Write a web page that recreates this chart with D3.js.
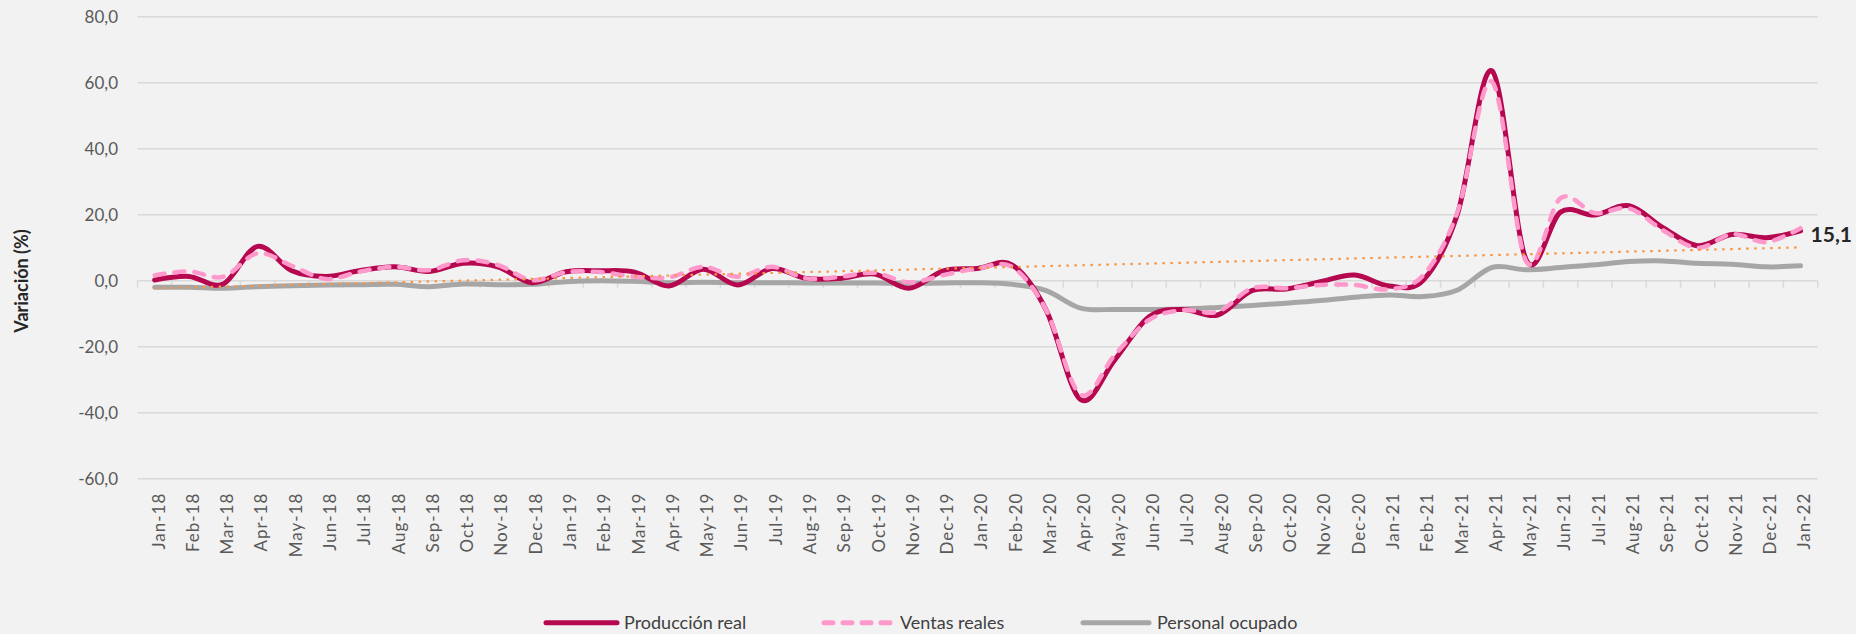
<!DOCTYPE html>
<html>
<head>
<meta charset="utf-8">
<script src="https://cdn.jsdelivr.net/npm/d3@7"></script>
<style>
  body { margin: 0; background: #f2f2f2; overflow: hidden; }
  text { font-family: Lato, "Open Sans", sans-serif; }
</style>
</head>
<body>
<div id="chart"></div>
<script>
// categories (monthly)
const categories = [
  "Jan-18","Feb-18","Mar-18","Apr-18","May-18","Jun-18","Jul-18","Aug-18","Sep-18","Oct-18","Nov-18","Dec-18",
  "Jan-19","Feb-19","Mar-19","Apr-19","May-19","Jun-19","Jul-19","Aug-19","Sep-19","Oct-19","Nov-19","Dec-19",
  "Jan-20","Feb-20","Mar-20","Apr-20","May-20","Jun-20","Jul-20","Aug-20","Sep-20","Oct-20","Nov-20","Dec-20",
  "Jan-21","Feb-21","Mar-21","Apr-21","May-21","Jun-21","Jul-21","Aug-21","Sep-21","Oct-21","Nov-21","Dec-21",
  "Jan-22"
];

// series values (variación %)
const produccion = [
  0.2, 1.3, -1.0, 10.4, 3.0, 1.3, 3.1, 4.2, 2.8, 5.3, 4.2, -0.6,
  2.7, 3.0, 2.6, -1.6, 3.5, -1.3, 3.7, 0.7, 0.7, 2.0, -2.3, 3.0,
  3.7, 4.8, -8.9, -36.0, -24.0, -10.9, -8.7, -10.4, -3.0, -2.5, -0.3, 1.7,
  -1.6, 0.2, 20.4, 63.6, 6.3, 20.8, 19.9, 22.7, 16.0, 10.6, 14.0, 13.0,
  15.1
];
const ventas = [
  1.6, 2.8, 1.2, 8.3, 4.5, 0.5, 2.8, 4.2, 3.2, 6.2, 4.8, 0.2,
  2.6, 2.6, 1.2, 1.0, 4.2, 1.2, 4.2, 0.7, 1.2, 2.4, -0.5, 1.7,
  3.7, 4.2, -8.9, -34.5, -22.5, -11.9, -8.9, -9.4, -2.3, -2.3, -1.3, -1.3,
  -2.6, 1.7, 21.0, 60.3, 5.8, 25.0, 20.5, 21.9, 15.2, 9.9, 14.1, 11.7,
  15.9
];
const personal = [
  -2.0, -2.0, -2.3, -1.8, -1.5, -1.3, -1.2, -1.1, -1.8, -1.0, -1.2, -1.1,
  -0.3, 0.0, -0.2, -0.6, -0.5, -0.6, -0.6, -0.7, -0.7, -0.7, -0.8, -0.7,
  -0.6, -1.1, -3.0, -8.3, -8.7, -8.7, -8.6, -8.1, -7.5, -6.8, -6.0, -5.0,
  -4.3, -4.8, -2.8, 4.0, 3.3, 4.0, 4.8, 5.8, 6.0, 5.3, 5.0, 4.2,
  4.5
];
// linear trend (start, end)
const tendencia = [-2.3, 10.1];

const yTicks = [-60, -40, -20, 0, 20, 40, 60, 80];
const legendLabels = ["Producción real", "Ventas reales", "Personal ocupado"];

// setting
const width = 1856, height = 634;
const plotLeft = 137.5, plotRight = 1817.7;
const plotTop = 16.7, plotBottom = 478.7;

const svg = d3.select("#chart").append("svg")
  .attr("width", width)
  .attr("height", height);

svg.append("rect")
  .attr("width", width)
  .attr("height", height)
  .attr("fill", "#f2f2f2");

const x = d3.scaleBand()
  .domain(categories)
  .range([plotLeft, plotRight]);
const xc = d => x(d) + x.bandwidth() / 2;

const y = d3.scaleLinear()
  .domain([-60, 80])
  .range([plotBottom, plotTop]);

// "80,0" style, plain hyphen for negatives
const fmt = d => d3.format(".1f")(d).replace(".", ",").replace("\u2212", "-");

// gridlines
svg.selectAll(".grid")
  .data(yTicks.filter(d => d !== 0))
  .enter().append("line")
  .attr("class", "grid")
  .attr("x1", plotLeft)
  .attr("x2", plotRight)
  .attr("y1", d => y(d))
  .attr("y2", d => y(d))
  .attr("stroke", "#d9d9d9")
  .attr("stroke-width", 1.5);

// y labels
svg.selectAll(".ylab")
  .data(yTicks)
  .enter().append("text")
  .attr("class", "ylab")
  .attr("x", 118)
  .attr("y", d => y(d))
  .attr("dy", "0.35em")
  .attr("text-anchor", "end")
  .attr("fill", "#595959")
  .style("font-size", "17px")
  .text(fmt);

// x axis at zero, ticks between categories
svg.append("line")
  .attr("x1", plotLeft)
  .attr("x2", plotRight)
  .attr("y1", y(0))
  .attr("y2", y(0))
  .attr("stroke", "#d9d9d9")
  .attr("stroke-width", 1.5);

const tickPos = categories.map(d => x(d)).concat([plotRight]);
svg.selectAll(".xtick")
  .data(tickPos)
  .enter().append("line")
  .attr("class", "xtick")
  .attr("x1", d => d)
  .attr("x2", d => d)
  .attr("y1", y(0))
  .attr("y2", y(0) + 7)
  .attr("stroke", "#d9d9d9")
  .attr("stroke-width", 1.5);

// x labels (low position)
svg.selectAll(".xlab")
  .data(categories)
  .enter().append("text")
  .attr("class", "xlab")
  .attr("transform", d => `translate(${xc(d)}, ${plotBottom + 14}) rotate(-90)`)
  .attr("dy", "0.58em")
  .attr("text-anchor", "end")
  .attr("fill", "#595959")
  .style("font-size", "17px")
  .style("letter-spacing", "1px")
  .text(d => d);

// y title
svg.append("text")
  .attr("transform", `translate(22, 281) rotate(-90)`)
  .attr("dy", "0.35em")
  .attr("text-anchor", "middle")
  .attr("fill", "#262626")
  .style("font-size", "18px")
  .style("font-weight", "bold")
  .text("Variación (%)");

// lines
const line = d3.line()
  .x((d, i) => xc(categories[i]))
  .y(d => y(d))
  .curve(d3.curveCardinal.tension(0));

svg.append("path")
  .datum(personal)
  .attr("d", line)
  .attr("fill", "none")
  .attr("stroke", "#a6a6a6")
  .attr("stroke-width", 5)
  .attr("stroke-linecap", "round");

svg.append("path")
  .datum(produccion)
  .attr("d", line)
  .attr("fill", "none")
  .attr("stroke", "#b5084f")
  .attr("stroke-width", 5)
  .attr("stroke-linecap", "round");

svg.append("path")
  .datum(ventas)
  .attr("d", line)
  .attr("fill", "none")
  .attr("stroke", "#ff99cc")
  .attr("stroke-width", 4.5)
  .attr("stroke-linecap", "round")
  .attr("stroke-dasharray", "10,10");

// trend line
svg.append("line")
  .attr("x1", xc(categories[0]))
  .attr("x2", xc(categories[categories.length - 1]))
  .attr("y1", y(tendencia[0]))
  .attr("y2", y(tendencia[1]))
  .attr("stroke", "#f79646")
  .attr("stroke-width", 2.2)
  .attr("stroke-dasharray", "2.5,5.5");

// last value label
const last = categories.length - 1;
svg.append("text")
  .attr("x", xc(categories[last]) + 10)
  .attr("y", y(produccion[last]))
  .attr("dy", "0.55em")
  .attr("fill", "#262626")
  .style("font-size", "21px")
  .style("font-weight", "bold")
  .text(fmt(produccion[last]));

// legend
const legendItems = [
  { label: legendLabels[0], color: "#b5084f", dash: null, x1: 546, x2: 617, tx: 624 },
  { label: legendLabels[1], color: "#ff99cc", dash: "9,10", x1: 824, x2: 890, tx: 900 },
  { label: legendLabels[2], color: "#a6a6a6", dash: null, x1: 1083, x2: 1149, tx: 1157 }
];
const legendY = 622.7;
const legend = svg.append("g");
legend.selectAll("line")
  .data(legendItems)
  .enter().append("line")
  .attr("x1", d => d.x1)
  .attr("x2", d => d.x2)
  .attr("y1", legendY)
  .attr("y2", legendY)
  .attr("stroke", d => d.color)
  .attr("stroke-width", 5)
  .attr("stroke-linecap", "round")
  .attr("stroke-dasharray", d => d.dash);
legend.selectAll("text")
  .data(legendItems)
  .enter().append("text")
  .attr("x", d => d.tx)
  .attr("y", legendY)
  .attr("dy", "0.35em")
  .attr("fill", "#404040")
  .style("font-size", "18px")
  .text(d => d.label);
</script>
</body>
</html>
